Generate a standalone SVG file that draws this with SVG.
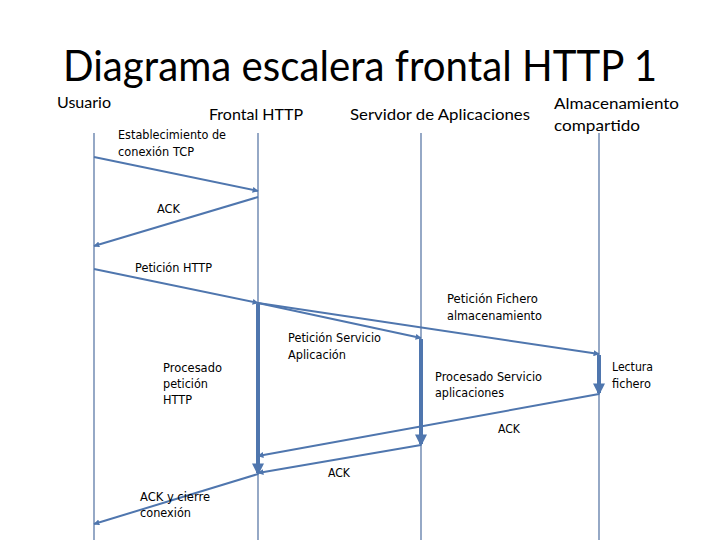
<svg xmlns="http://www.w3.org/2000/svg" width="720" height="540" viewBox="0 0 720 540">
<style>
.title{font-family:Lato,"Liberation Sans",Arial,sans-serif;font-size:42px;fill:#000}
.hdr{font-family:Lato,"Liberation Sans",Arial,sans-serif;font-size:16px;fill:#000}
.lbl{font-family:"DejaVu Sans","Liberation Sans",Arial,sans-serif;font-size:11.5px;fill:#000}
.life{stroke:#4F6FA0;stroke-width:1.2;fill:none}
.msg{stroke:#4F76AE;stroke-width:2;fill:none;marker-end:url(#ah)}
.bar{stroke:#4F76AE;stroke-width:4;fill:none;marker-end:url(#bh)}
</style>
<defs>
<marker id="ah" viewBox="0 0 10 10" refX="9" refY="5" markerWidth="3" markerHeight="3" orient="auto" markerUnits="strokeWidth">
<path d="M0,0 L10,5 L0,10 z" fill="#4F76AE"/>
</marker>
<marker id="bh" viewBox="0 0 10 10" refX="8" refY="5" markerWidth="3" markerHeight="3.2" orient="auto" markerUnits="strokeWidth">
<path d="M0,0 L10,5 L0,10 z" fill="#4F76AE"/>
</marker>
</defs>
<rect width="720" height="540" fill="#fff"/>
<text class="title" x="63" y="81" textLength="594" lengthAdjust="spacingAndGlyphs">Diagrama escalera frontal HTTP 1</text>

<g id="usuario">
<text class="hdr" x="57" y="108" textLength="54" lengthAdjust="spacingAndGlyphs">Usuario</text>
<line class="life" x1="94" y1="133" x2="94" y2="540"/>
</g>
<g id="frontal">
<text class="hdr" x="209" y="120" textLength="94" lengthAdjust="spacingAndGlyphs">Frontal HTTP</text>
<line class="life" x1="258" y1="133" x2="258" y2="540"/>
</g>
<g id="servidor">
<text class="hdr" x="350" y="120" textLength="180" lengthAdjust="spacingAndGlyphs">Servidor de Aplicaciones</text>
<line class="life" x1="421" y1="133" x2="421" y2="540"/>
</g>
<g id="almacenamiento">
<text class="hdr" x="554" y="109" textLength="125" lengthAdjust="spacingAndGlyphs">Almacenamiento</text>
<text class="hdr" x="554" y="131" textLength="86" lengthAdjust="spacingAndGlyphs">compartido</text>
<line class="life" x1="599" y1="133" x2="599" y2="540"/>
</g>

<g id="connectors">
<line class="msg" x1="94" y1="157" x2="258" y2="191"/>
<line class="msg" x1="258" y1="197" x2="94" y2="246"/>
<line class="msg" x1="94" y1="269" x2="258" y2="303"/>
<line class="msg" x1="258" y1="303" x2="599" y2="354"/>
<line class="msg" x1="258" y1="303" x2="421" y2="338"/>
<line class="bar" x1="258" y1="304" x2="258" y2="473"/>
<line class="bar" x1="421" y1="339" x2="421" y2="444"/>
<line class="bar" x1="599" y1="355" x2="599" y2="393"/>
<line class="msg" x1="599" y1="394" x2="258" y2="456"/>
<line class="msg" x1="421" y1="445" x2="258" y2="473"/>
<line class="msg" x1="258" y1="474" x2="94" y2="524"/>
</g>

<g id="labels">
<text class="lbl" x="118" y="139" textLength="108" lengthAdjust="spacingAndGlyphs">Establecimiento de</text>
<text class="lbl" x="118" y="156" textLength="76" lengthAdjust="spacingAndGlyphs">conexión TCP</text>
<text class="lbl" x="157" y="213" textLength="23" lengthAdjust="spacingAndGlyphs">ACK</text>
<text class="lbl" x="135" y="272" textLength="77" lengthAdjust="spacingAndGlyphs">Petición HTTP</text>
<text class="lbl" x="447" y="303" textLength="91" lengthAdjust="spacingAndGlyphs">Petición Fichero</text>
<text class="lbl" x="447" y="320" textLength="95" lengthAdjust="spacingAndGlyphs">almacenamiento</text>
<text class="lbl" x="288" y="342" textLength="93" lengthAdjust="spacingAndGlyphs">Petición Servicio</text>
<text class="lbl" x="288" y="359" textLength="58" lengthAdjust="spacingAndGlyphs">Aplicación</text>
<text class="lbl" x="163" y="372" textLength="59" lengthAdjust="spacingAndGlyphs">Procesado</text>
<text class="lbl" x="163" y="388" textLength="45" lengthAdjust="spacingAndGlyphs">petición</text>
<text class="lbl" x="163" y="404" textLength="29" lengthAdjust="spacingAndGlyphs">HTTP</text>
<text class="lbl" x="435" y="381" textLength="107" lengthAdjust="spacingAndGlyphs">Procesado Servicio</text>
<text class="lbl" x="435" y="397" textLength="69" lengthAdjust="spacingAndGlyphs">aplicaciones</text>
<text class="lbl" x="612" y="371" textLength="41" lengthAdjust="spacingAndGlyphs">Lectura</text>
<text class="lbl" x="612" y="388" textLength="39" lengthAdjust="spacingAndGlyphs">fichero</text>
<text class="lbl" x="498" y="433" textLength="22" lengthAdjust="spacingAndGlyphs">ACK</text>
<text class="lbl" x="328" y="477" textLength="22" lengthAdjust="spacingAndGlyphs">ACK</text>
<text class="lbl" x="140" y="501" textLength="70" lengthAdjust="spacingAndGlyphs">ACK y cierre</text>
<text class="lbl" x="140" y="517" textLength="51" lengthAdjust="spacingAndGlyphs">conexión</text>
</g>
</svg>
